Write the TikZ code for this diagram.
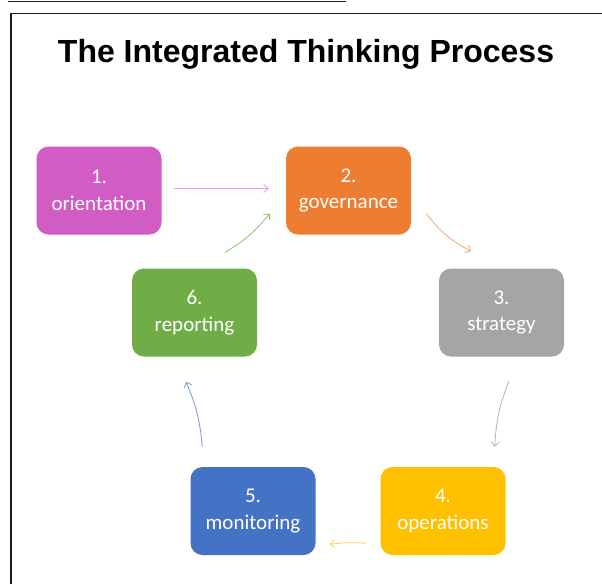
\documentclass[tikz,border=0pt]{standalone}
\usepackage{fontspec}
\setmainfont{Carlito}
\newfontfamily\titlefont{Liberation Sans}
\usetikzlibrary{arrows.meta,calc}

\definecolor{cOrient}{HTML}{D05CC4}
\definecolor{cGov}{HTML}{ED7D31}
\definecolor{cStrat}{HTML}{A5A5A5}
\definecolor{cOps}{HTML}{FFC000}
\definecolor{cMon}{HTML}{4472C4}
\definecolor{cRep}{HTML}{70AD47}
\definecolor{aOrient}{HTML}{E49ADB}
\definecolor{aGov}{HTML}{F3A676}
\definecolor{aStrat}{HTML}{B4B4B4}
\definecolor{aOps}{HTML}{FFD060}
\definecolor{aMon}{HTML}{7A9AD6}
\definecolor{aRep}{HTML}{8DC46C}
\definecolor{frame}{HTML}{1A1A1A}

\tikzset{
  stepbox/.style={rectangle, rounded corners=12pt, draw=none,
    minimum width=125pt, minimum height=88pt, inner sep=0pt,
    text=white, align=center,
    font=\fontsize{21}{26.5}\selectfont},
  flow/.style={line width=0.8pt, -{Straight Barb[length=4.5pt,width=8pt,line width=0.8pt]}},
}

\begin{document}
\begin{tikzpicture}[x=1pt,y=-1pt]
  \useasboundingbox (0,0) rectangle (602,584);
  \fill[white] (0,0) rectangle (602,584);

  % page rules and frame
  \draw[frame, line width=1.5pt] (8,1.5) -- (346,1.5);
  \draw[frame, line width=1.6pt] (11,584) -- (11,13.5) -- (602,13.5);

  % title
  \node[anchor=base, inner sep=0pt, font=\titlefont\bfseries\fontsize{32}{38}\selectfont]
    (title) at (306,62) {The Integrated Thinking Process};

  % process steps
  \node[stepbox, fill=cOrient] (o) at (99,190.5)    {1.\\orientation};
  \node[stepbox, fill=cGov]    (g) at (348.5,190.5) {2.\\governance};
  \node[stepbox, fill=cStrat]  (s) at (501.5,312.5) {3.\\strategy};
  \node[stepbox, fill=cOps]    (p) at (443,511)     {4.\\operations};
  \node[stepbox, fill=cMon]    (m) at (253,511)     {5.\\monitoring};
  \node[stepbox, fill=cRep]    (r) at (194.5,312.5) {6.\\reporting};

  % connectors
  \draw[flow, aOrient] ([shift={(12,-2)}]o.east) -- ([shift={(-17,-2)}]g.west);
  \draw[flow, aGov]    ([shift={(15,23)}]g.east) to[bend right=12] ([shift={(-30.5,-17)}]s.north);
  \draw[flow, aStrat]  ([shift={(7.5,24)}]s.south) to[bend right=9] ([shift={(-11,-20)}]p.north east);
  \draw[flow, aOps]    ([shift={(-14,-12)}]p.south west) to[bend right=5] ([shift={(14,-11)}]m.south east);
  \draw[flow, aMon]    ([shift={(12,-20)}]m.north west) to[bend right=9] ([shift={(-8.5,25)}]r.south);
  \draw[flow, aRep]    ([shift={(30.5,-16)}]r.north) to[bend right=10] ([shift={(-16,23)}]g.west);
\end{tikzpicture}
\end{document}
